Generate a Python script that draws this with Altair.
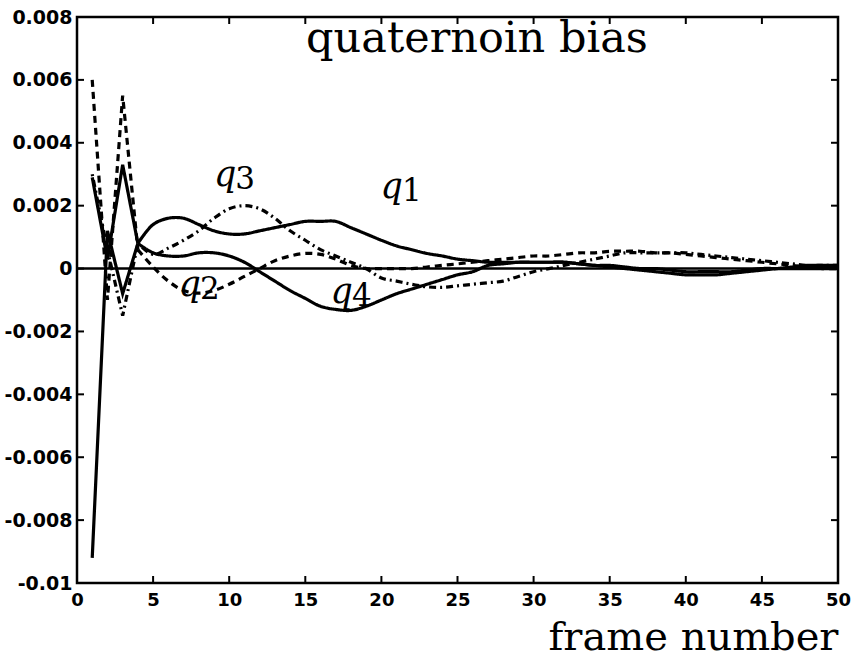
import altair as alt
import pandas as pd

# Quaternion bias estimates per frame
frames = list(range(1, 51))

q1 = [0.0029, 0.0003, 0.0033, 0.0008, 0.0014, 0.0016, 0.0016, 0.0014, 0.0012, 0.0011,
      0.0011, 0.0012, 0.0013, 0.0014, 0.0015, 0.0015, 0.0015, 0.0013, 0.0011, 0.0009,
      0.00072, 0.0006, 0.00048, 0.0004, 0.0003, 0.00025, 0.0002, 0.0002, 0.0002, 0.0002,
      0.0002, 0.0002, 0.00015, 0.0001, 0.00005, 0.0, -0.00005, -0.0001, -0.00015, -0.0002,
      -0.0002, -0.0002, -0.00015, -0.0001, -0.00005, 0.0, 0.00005, 0.0001, 0.0001, 0.0001]

q2 = [0.0060, -0.0010, 0.0055, 0.0006, 0.00005, -0.0004, -0.0007, -0.00078, -0.0007, -0.0005,
      -0.00025, 0.0, 0.00025, 0.0004, 0.00048, 0.00045, 0.0003, 0.0001, 0.0, 0.0,
      0.0, 0.0, 0.00005, 0.0001, 0.00015, 0.0002, 0.00025, 0.0003, 0.00035, 0.0004,
      0.0004, 0.00045, 0.0005, 0.0005, 0.00055, 0.00055, 0.00055, 0.0005, 0.0005, 0.00045,
      0.0004, 0.00035, 0.0003, 0.00025, 0.0002, 0.00015, 0.0001, 0.00005, 0.0, 0.0]

q3 = [0.0030, 0.0006, -0.0015, 0.0008, 0.00045, 0.00065, 0.0009, 0.0012, 0.0016, 0.0019,
      0.0020, 0.0019, 0.0016, 0.0012, 0.0009, 0.0006, 0.0004, 0.0002, 0.0, -0.0003,
      -0.0004, -0.0005, -0.00058, -0.0006, -0.00055, -0.0005, -0.00045, -0.0004, -0.00025, -0.0001,
      0.0, 0.0001, 0.0002, 0.0003, 0.0004, 0.0005, 0.0005, 0.0005, 0.0005, 0.0005,
      0.00045, 0.0004, 0.00035, 0.0003, 0.00025, 0.0002, 0.00015, 0.0001, 0.0001, 0.0001]

q4 = [-0.0092, 0.0012, -0.0008, 0.0008, 0.0005, 0.0004, 0.0004, 0.0005, 0.0005, 0.0004,
      0.0002, -0.0001, -0.0004, -0.0007, -0.00095, -0.0012, -0.0013, -0.00133, -0.0012, -0.001,
      -0.0008, -0.00065, -0.0005, -0.00035, -0.0002, -0.0001, 0.0001, 0.00015, 0.0002, 0.0002,
      0.0002, 0.0002, 0.00015, 0.0001, 0.0001, 0.00005, 0.0, 0.0, -0.00005, -0.0001,
      -0.0001, -0.0001, -0.0001, -0.00005, 0.0, 0.0, 0.0, 0.0, 0.0, 0.0]

series_names = ["q1", "q2", "q3", "q4"]
series_dash = [[1, 0], [7, 5], [2, 4, 7, 4], [1, 0]]

# Curve labels: italic q followed by the index digit
label_series = ["q1", "q2", "q3", "q4"]
label_digit = ["1", "2", "3", "4"]
label_frame = [21.35, 8.08, 10.4, 18.07]
label_bias = [0.00225, -0.00086, 0.00263, -0.00111]

x_ticks = [0, 5, 10, 15, 20, 25, 30, 35, 40, 45, 50]
y_ticks = [-0.01, -0.008, -0.006, -0.004, -0.002, 0.0, 0.002, 0.004, 0.006, 0.008]

W, H = 761, 566
TICK = 7
SETTLE = 4  # frames up to here are joined by straight segments

rows = []
for name, vals in zip(series_names, [q1, q2, q3, q4]):
    for f, v in zip(frames, vals):
        rows.append({"series": name, "frame": f, "bias": v})
df = pd.DataFrame(rows)

labels_df = pd.DataFrame({"series": label_series, "digit": label_digit,
                          "frame": label_frame, "bias": label_bias})
xt_df = pd.DataFrame({"frame": x_ticks})
yt_df = pd.DataFrame({"bias": y_ticks})

x_scale = alt.Scale(domain=[0, 50], nice=False, zero=False)
y_scale = alt.Scale(domain=[-0.01, 0.008], nice=False, zero=False)

label_font = "DejaVu Sans"
serif = "DejaVu Serif"

x_axis = alt.Axis(values=x_ticks, format="d", grid=False, domain=False, tickSize=0,
                  labelFont=label_font, labelFontWeight="bold", labelFontSize=18,
                  labelColor="black", labelPadding=8, labelFlush=False,
                  title="frame number", titleFont=serif, titleFontSize=40,
                  titleFontWeight="normal", titleColor="black",
                  titleAnchor="end", titleAlign="right", titleBaseline="alphabetic",
                  titleX=W, titleY=66)
y_axis = alt.Axis(values=y_ticks, grid=False, domain=False, tickSize=0,
                  labelExpr="replace(format(datum.value, '.3~f'), '\u2212', '-')",
                  labelFont=label_font, labelFontWeight="bold", labelFontSize=19,
                  labelColor="black", labelPadding=5, labelFlush=False,
                  title=" ")

X = alt.X("frame:Q", scale=x_scale, axis=x_axis, title="frame number")
Y = alt.Y("bias:Q", scale=y_scale, axis=y_axis, title=" ")

dash = alt.StrokeDash("series:N", scale=alt.Scale(domain=series_names, range=series_dash),
                      legend=None)

base = alt.Chart(df)
lines_early = base.transform_filter(alt.datum.frame <= SETTLE).mark_line(
    color="black", strokeWidth=3.2, interpolate="linear"
).encode(x=X, y=Y, strokeDash=dash, detail="series:N")
lines_late = base.transform_filter(alt.datum.frame >= SETTLE).mark_line(
    color="black", strokeWidth=3.2, interpolate="catmull-rom"
).encode(x=X, y=Y, strokeDash=dash, detail="series:N")

zero_line = alt.Chart(pd.DataFrame({"bias": [0.0]})).mark_rule(
    color="black", strokeWidth=2.5).encode(y=Y)

# Inward ticks on all four sides
tick_left = alt.Chart(yt_df).mark_rule(color="black", strokeWidth=2).encode(
    y=Y, x=alt.value(0), x2=alt.value(TICK))
tick_right = alt.Chart(yt_df).mark_rule(color="black", strokeWidth=2).encode(
    y=Y, x=alt.value(W), x2=alt.value(W - TICK))
tick_bottom = alt.Chart(xt_df).mark_rule(color="black", strokeWidth=2).encode(
    x=X, y=alt.value(H), y2=alt.value(H - TICK))
tick_top = alt.Chart(xt_df).mark_rule(color="black", strokeWidth=2).encode(
    x=X, y=alt.value(0), y2=alt.value(TICK))

q_text = alt.Chart(labels_df).mark_text(
    text="q", font=serif, fontStyle="italic", fontSize=35, align="right",
    baseline="alphabetic", color="black", dx=1
).encode(x=X, y=Y)
digit_text = alt.Chart(labels_df).mark_text(
    font=serif, fontSize=31, align="left", baseline="alphabetic", color="black", dy=3
).encode(x=X, y=Y, text="digit:N")

heading = alt.Chart(pd.DataFrame({"t": ["quaternoin bias"]})).mark_text(
    font=serif, fontSize=43, align="center", baseline="alphabetic", color="black"
).encode(text="t:N", x=alt.value(400), y=alt.value(35))

chart = alt.layer(
    lines_early, lines_late, zero_line, tick_left, tick_right, tick_bottom, tick_top,
    q_text, digit_text, heading
).properties(
    width=W, height=H,
    autosize=alt.AutoSizeParams(type="none"),
    padding={"left": 77, "top": 17, "right": 22, "bottom": 74},
    background="white",
).configure_view(stroke="black", strokeWidth=2.5)

chart.save("out.html", embed_options={"renderer": "svg", "actions": False})
